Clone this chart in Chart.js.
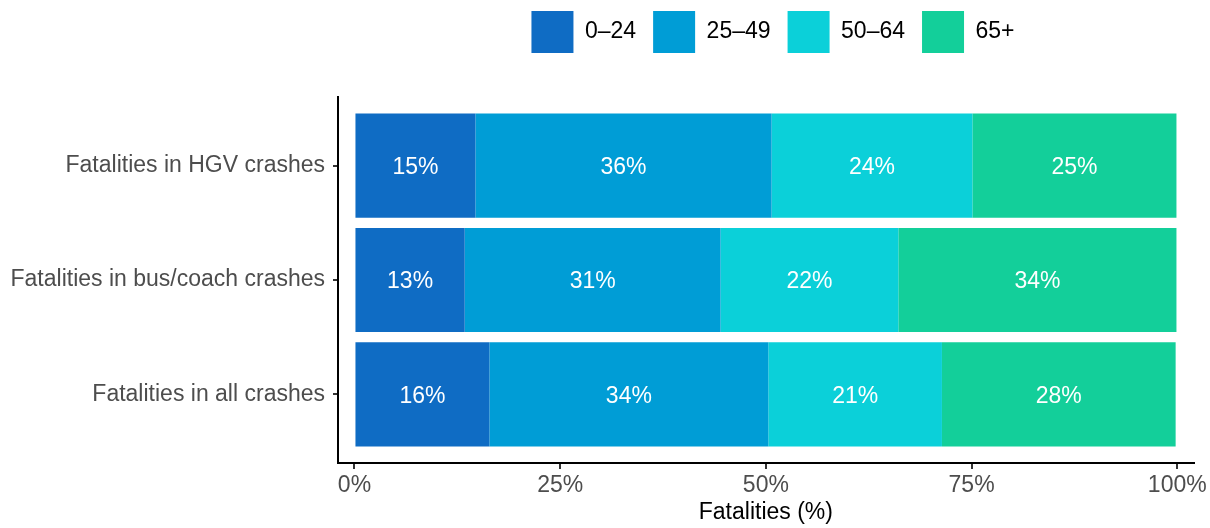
<!DOCTYPE html>
<html>
<head>
<meta charset="utf-8">
<script src="https://cdn.jsdelivr.net/npm/chart.js@4/dist/chart.umd.min.js"></script>
<style>
  html, body { margin: 0; padding: 0; background: #fff; }
  #wrap { width: 1210px; height: 528px; }
</style>
</head>
<body>
<div id="wrap"><canvas id="chart"></canvas></div>
<script>
// data
const categories = ['Fatalities in HGV crashes', 'Fatalities in bus/coach crashes', 'Fatalities in all crashes'];
const catPos = [3, 2, 1];
const ageGroups = ['0–24', '25–49', '50–64', '65+'];
const age0to24 = [14.7, 13.4, 16.4];
const age25to49 = [36.0, 31.1, 33.9];
const age50to64 = [24.4, 21.6, 21.1];
const age65plus = [24.8, 33.8, 28.4];
const xTicks = [0, 25, 50, 75, 100];

const colors = ['#0f6cc4', '#009dd6', '#0bd0d9', '#13cf9a'];
const FONT = '"Liberation Sans", Arial, sans-serif';

const series = [age0to24, age25to49, age50to64, age65plus];
const datasets = series.map((vals, k) => ({
  label: ageGroups[k],
  data: vals.map((v, i) => ({ x: v, y: catPos[i] })),
  backgroundColor: colors[k],
  borderWidth: 0,
  categoryPercentage: 1,
  barPercentage: 0.91
}));

// white percentage labels in the middle of each segment
const barLabels = {
  id: 'barLabels',
  afterDatasetsDraw(chart) {
    const ctx = chart.ctx;
    ctx.save();
    ctx.font = '23px ' + FONT;
    ctx.fillStyle = '#ffffff';
    ctx.textAlign = 'center';
    ctx.textBaseline = 'middle';
    chart.data.datasets.forEach((ds, di) => {
      chart.getDatasetMeta(di).data.forEach((bar, i) => {
        const p = bar.getProps(['x', 'y', 'base'], true);
        ctx.fillText(Math.round(ds.data[i].x) + '%', (p.x + p.base) / 2, p.y + 2);
      });
    });
    ctx.restore();
  }
};

// legend sits centred over the plot, not the canvas
const legendShift = {
  id: 'legendShift',
  afterLayout(chart) {
    const lg = chart.legend;
    lg.left = 352;
    lg.top = -6;
  }
};

new Chart(document.getElementById('chart'), {
  type: 'bar',
  data: { datasets },
  plugins: [barLabels, legendShift],
  options: {
    indexAxis: 'y',
    responsive: true,
    maintainAspectRatio: false,
    animation: false,
    layout: { padding: { top: 28, right: 16, left: 0, bottom: 0 } },
    plugins: {
      tooltip: { enabled: false },
      legend: {
        position: 'top',
        labels: {
          boxWidth: 42,
          boxHeight: 42,
          padding: 17,
          color: '#000',
          font: { family: FONT, size: 23 }
        }
      }
    },
    scales: {
      x: {
        type: 'linear',
        stacked: true,
        min: -2,
        max: 102,
        afterBuildTicks: s => { s.ticks = xTicks.map(v => ({ value: v })); },
        afterFit: s => { s.height = 65; },
        ticks: {
          callback: v => v + '%',
          color: '#4d4d4d',
          padding: 3,
          font: { family: FONT, size: 23 }
        },
        grid: { drawOnChartArea: false, drawTicks: true, tickLength: 6, color: '#333', lineWidth: 2 },
        border: { color: '#000', width: 2 },
        title: {
          display: true,
          text: 'Fatalities (%)',
          color: '#000',
          font: { family: FONT, size: 23 },
          padding: { top: 0, bottom: 2 }
        }
      },
      y: {
        type: 'linear',
        stacked: true,
        offset: false,
        min: 0.4,
        max: 3.6,
        afterBuildTicks: s => { s.ticks = catPos.map(v => ({ value: v })); },
        afterFit: s => { s.width = 338; },
        ticks: {
          callback: v => categories[catPos.indexOf(v)],
          color: '#4d4d4d',
          padding: 8,
          font: { family: FONT, size: 23 }
        },
        grid: { offset: false, drawOnChartArea: false, drawTicks: true, tickLength: 5, color: '#333', lineWidth: 2 },
        border: { color: '#000', width: 2 }
      }
    }
  }
});
</script>
</body>
</html>
